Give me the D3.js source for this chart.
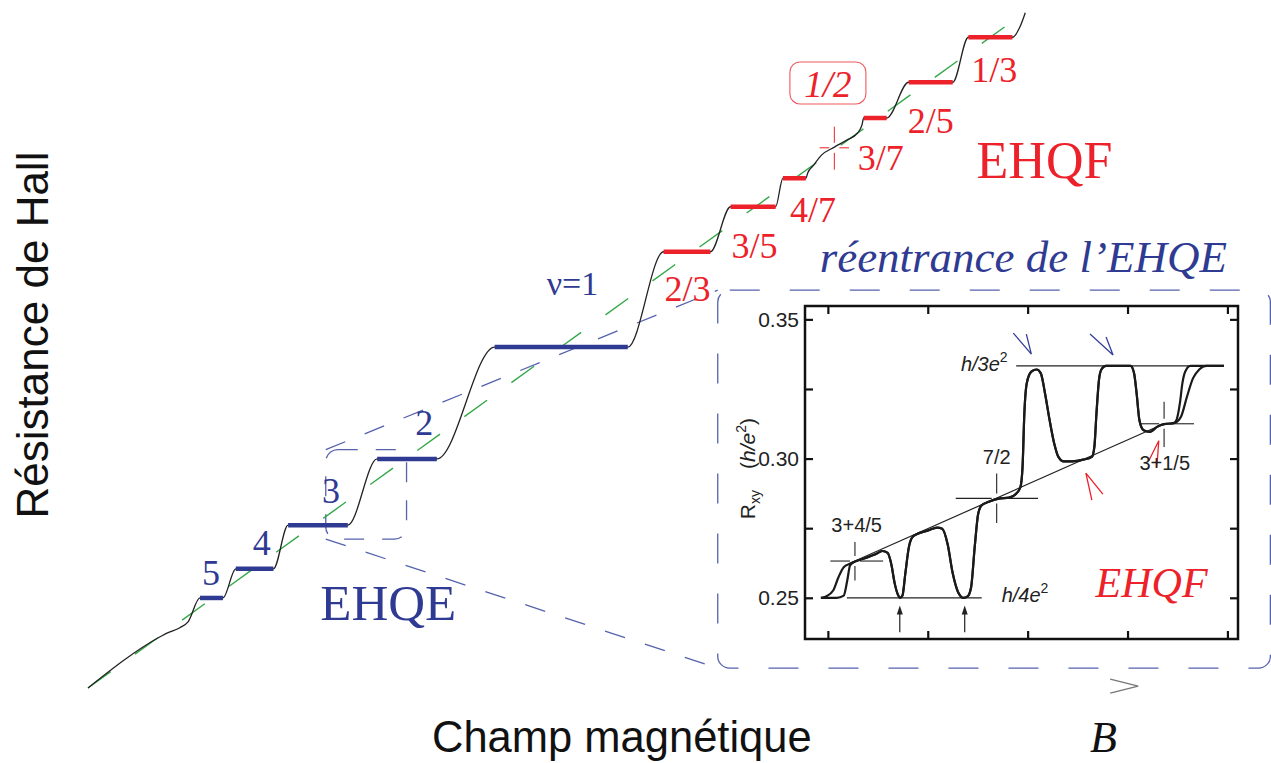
<!DOCTYPE html>
<html><head><meta charset="utf-8">
<script src="https://cdn.jsdelivr.net/npm/d3@7/dist/d3.min.js"></script>
<style>body{margin:0;background:#fff}svg{display:block}</style>
</head><body>
<svg id="c" width="1271" height="763"></svg>
<script>
// ===== main figure data (arbitrary units: B = field, R = Hall resistance) =====
const classicalLine = [[0, 0], [10, 10]];
const lowFieldCurve = [[0, 0], [0.78, 0.77], [0.82, 0.80], [0.86, 0.83], [1.00, 0.91], [1.09, 1.00]];
const plateauLabels = ["5", "4", "3", "2", "ν=1", "2/3", "3/5", "4/7", "3/7", "2/5", "1/3"];
const plateauStart  = [1.22, 1.61, 2.18, 3.15, 4.43, 6.27, 7.00, 7.57, 8.45, 8.94, 9.59];
const plateauEnd    = [1.47, 2.02, 2.83, 3.80, 5.88, 6.78, 7.49, 7.82, 8.70, 9.42, 10.07];
const plateauR      = [1.36, 1.80, 2.46, 3.46, 5.15, 6.59, 7.27, 7.70, 8.61, 9.15, 9.83];
const plateauType   = ["int", "int", "int", "int", "int", "frac", "frac", "frac", "frac", "frac", "frac"];
const halfFillingCurve = [[7.84, 7.78], [7.90, 7.89], [7.99, 8.05], [8.13, 8.17], [8.27, 8.28], [8.38, 8.38], [8.43, 8.50]];
const highFieldCurve = [[10.15, 9.98], [10.21, 10.20]];
const halfPoint = [8.13, 8.16];
const halfCrossArms = [0.16, 0.16, 0.32, 0.33]; // left, right, up, down (B, R units)
const zoomRectB = [2.59, 3.47], zoomRectR = [2.25, 3.60];
const insetBoxB = [6.86, 12.88], insetBoxR = [0.30, 6.01];

// ===== inset data (R_xy in h/e^2 vs field, arbitrary units) =====
const insetYTicks = [0.25, 0.275, 0.30, 0.325, 0.35];
const insetYLabels = [0.25, 0.30, 0.35];
const insetXTicks = [0, 1, 2, 3, 4];
const traceA = [[-0.070,0.2500],[0.088,0.2500],[0.159,0.2508],[0.194,0.2562],[0.222,0.2616],[0.271,0.2630],[0.370,0.2642],[0.476,0.2656],[0.546,0.2668],[0.599,0.2661],[0.634,0.2622],[0.670,0.2550],[0.705,0.2508],[0.722,0.2500],[0.747,0.2508],[0.775,0.2586],[0.811,0.2682],[0.846,0.2718],[0.899,0.2730],[1.004,0.2742],[1.093,0.2752],[1.145,0.2748],[1.198,0.2694],[1.251,0.2586],[1.304,0.2520],[1.357,0.2500],[1.399,0.2505],[1.434,0.2538],[1.470,0.2682],[1.505,0.2802],[1.540,0.2832],[1.604,0.2844],[1.709,0.2856],[1.815,0.2860],[1.885,0.2874],[1.928,0.2898],[1.949,0.2970],[1.967,0.3162],[1.991,0.3270],[2.037,0.3312],[2.090,0.3320],[2.132,0.3306],[2.174,0.3234],[2.220,0.3138],[2.266,0.3054],[2.308,0.3006],[2.361,0.2990],[2.449,0.2990],[2.555,0.2996],[2.643,0.3006],[2.668,0.3042],[2.689,0.3162],[2.714,0.3282],[2.738,0.3320],[2.784,0.3333],[3.031,0.3333],[3.066,0.3306],[3.091,0.3234],[3.119,0.3138],[3.161,0.3102],[3.225,0.3096],[3.295,0.3114],[3.366,0.3124],[3.454,0.3126],[3.489,0.3138],[3.524,0.3198],[3.549,0.3270],[3.577,0.3312],[3.630,0.3333],[3.965,0.3333]];
const traceB = [[-0.070,0.2500],[-0.018,0.2505],[0.053,0.2526],[0.106,0.2574],[0.159,0.2610],[0.222,0.2622],[0.271,0.2630],[0.370,0.2642],[0.476,0.2656],[0.546,0.2668],[0.599,0.2661],[0.634,0.2622],[0.670,0.2550],[0.705,0.2508],[0.722,0.2500],[0.747,0.2508],[0.775,0.2586],[0.811,0.2682],[0.846,0.2718],[0.899,0.2730],[1.004,0.2742],[1.093,0.2752],[1.145,0.2748],[1.198,0.2694],[1.251,0.2586],[1.304,0.2520],[1.357,0.2500],[1.399,0.2505],[1.434,0.2538],[1.470,0.2682],[1.505,0.2802],[1.540,0.2832],[1.604,0.2844],[1.709,0.2856],[1.815,0.2860],[1.885,0.2874],[1.928,0.2898],[1.949,0.2970],[1.967,0.3162],[1.991,0.3270],[2.037,0.3312],[2.090,0.3320],[2.132,0.3306],[2.174,0.3234],[2.220,0.3138],[2.266,0.3054],[2.308,0.3006],[2.361,0.2990],[2.449,0.2990],[2.555,0.2996],[2.643,0.3006],[2.668,0.3042],[2.689,0.3162],[2.714,0.3282],[2.738,0.3320],[2.784,0.3333],[3.031,0.3333],[3.066,0.3306],[3.091,0.3234],[3.119,0.3138],[3.161,0.3102],[3.225,0.3096],[3.295,0.3114],[3.366,0.3124],[3.471,0.3128],[3.535,0.3150],[3.595,0.3222],[3.655,0.3288],[3.718,0.3320],[3.789,0.3333],[3.965,0.3333]];
const insetClassical = [[0.22, 0.2624], [3.37, 0.3126]];
const quarterLine = [[0.19, 0.25], [1.54, 0.25]];
const thirdLine = [[1.885, 0.3333], [3.965, 0.3333]];
const crossLabels = ["3+4/5", "7/2", "3+1/5"];
const crossX = [0.271, 1.69, 3.366];
const crossR = [0.2632, 0.2857, 0.3125];
const crossArmsX = [[0.246, 0.282], [0.41, 0.414], [0.247, 0.30]];
const crossArmsR = [[0.0068, 0.0070], [0.0089, 0.0088], [0.0079, 0.0083]];
const upArrowX = [0.72, 1.37];
const upArrowR = [0.2376, 0.2472];
const blueArrowTips = [[2.037, 0.3375], [2.855, 0.3372]];
const redArrowTips = [[2.583, 0.2948], [3.313, 0.3064]];

// ===== layout / style =====
const BLUE = "#2f3b92", BLUE_DASH = "#5461ad", RED = "#ec2129", GREEN = "#35a84a", INK = "#222";
const SERIF = "'Liberation Serif','Times New Roman',serif";
const SANS = "'Liberation Sans',Arial,Helvetica,sans-serif";
const labelOffsets = [[2,-13],[17,-14],[34,-22],[38,-24],[52,-52],[1,49],[1,51],[7,44],[-6,52],[-1,51],[3,45]];
const inset = {left: 805, right: 1238, top: 306, bottom: 639};

const svg = d3.select("#c");
const x = d3.scaleLinear().domain([0, 10]).range([88, 1006]);
const y = d3.scaleLinear().domain([0, 10]).range([688, 26]);
const ix = d3.scaleLinear().domain([-0.229, 4.106]).range([inset.left, inset.right]);
const iy = d3.scaleLinear().domain([0.2352, 0.3548]).range([inset.bottom, inset.top]);

const mainLine = d3.line().x(d => x(d[0])).y(d => y(d[1]));
const mainCurve = d3.line().x(d => x(d[0])).y(d => y(d[1])).curve(d3.curveMonotoneX);
const insetLine = d3.line().x(d => ix(d[0])).y(d => iy(d[1]));
const insetCurve = d3.line().x(d => ix(d[0])).y(d => iy(d[1])).curve(d3.curveMonotoneX);

// dashed zoom boxes & connectors
function roundRect(x0, y0, x1, y1, r, dash, color) {
  svg.append("rect").attr("x", Math.min(x0,x1)).attr("y", Math.min(y0,y1))
    .attr("width", Math.abs(x1-x0)).attr("height", Math.abs(y1-y0)).attr("rx", r)
    .attr("fill", "none").attr("stroke", color).attr("stroke-width", 1.3).attr("stroke-dasharray", dash);
}
roundRect(x(zoomRectB[0]), y(zoomRectR[1]), x(zoomRectB[1]), y(zoomRectR[0]), 12, "20,18", BLUE_DASH);
roundRect(x(insetBoxB[0]), y(insetBoxR[1]), x(insetBoxB[1]), y(insetBoxR[0]), 12, "30,30", BLUE_DASH);
const connectors = [
  [[zoomRectB[0], zoomRectR[1]], [insetBoxB[0], insetBoxR[1]]],
  [[zoomRectB[0], zoomRectR[0]], [insetBoxB[0], insetBoxR[0]]]
];
svg.selectAll(".conn").data(connectors).join("path").attr("class", "conn")
  .attr("d", mainLine).attr("fill", "none").attr("stroke", BLUE_DASH)
  .attr("stroke-width", 1.3).attr("stroke-dasharray", "21,21");

// classical Hall line
svg.append("path").datum(classicalLine).attr("d", mainLine).attr("fill", "none")
  .attr("stroke", GREEN).attr("stroke-width", 1.4).attr("stroke-dasharray", "28,30");

// Hall resistance staircase
const pts = lowFieldCurve.slice();
plateauStart.forEach((b, i) => {
  pts.push([b, plateauR[i]], [plateauEnd[i], plateauR[i]]);
  if (plateauLabels[i] === "4/7") pts.push(...halfFillingCurve);
});
pts.push(...highFieldCurve);
svg.append("path").datum(pts).attr("d", mainCurve).attr("fill", "none")
  .attr("stroke", INK).attr("stroke-width", 1.3);

// plateaus
svg.selectAll(".plat").data(plateauStart).join("line").attr("class", "plat")
  .attr("x1", (d) => x(d)).attr("x2", (d, i) => x(plateauEnd[i]))
  .attr("y1", (d, i) => y(plateauR[i])).attr("y2", (d, i) => y(plateauR[i]))
  .attr("stroke", (d, i) => plateauType[i] === "int" ? BLUE : RED).attr("stroke-width", 4.5);

// plateau labels
svg.selectAll(".plab").data(plateauLabels).join("text").attr("class", "plab")
  .attr("x", (d, i) => x(plateauStart[i]) + labelOffsets[i][0])
  .attr("y", (d, i) => y(plateauR[i]) + labelOffsets[i][1])
  .attr("font-family", SERIF).attr("font-size", (d) => d === "ν=1" ? 34 : 36)
  .attr("fill", (d, i) => plateauType[i] === "int" ? BLUE : RED).text(d => d);

// crosshair helper (pixels)
function cross(g, cx, cy, l, r, u, d, gap, color, w) {
  const segs = [[cx - l, cy, cx - gap, cy], [cx + gap, cy, cx + r, cy], [cx, cy - u, cx, cy - gap], [cx, cy + gap, cx, cy + d]];
  segs.forEach(s => g.append("line").attr("x1", s[0]).attr("y1", s[1]).attr("x2", s[2]).attr("y2", s[3])
    .attr("stroke", color).attr("stroke-width", w));
}
cross(svg, x(halfPoint[0]), y(halfPoint[1]),
  x(halfPoint[0]) - x(halfPoint[0] - halfCrossArms[0]), x(halfPoint[0] + halfCrossArms[1]) - x(halfPoint[0]),
  y(halfPoint[1]) - y(halfPoint[1] + halfCrossArms[2]), y(halfPoint[1] - halfCrossArms[3]) - y(halfPoint[1]), 5, RED, 1);

// "1/2" box
const hx = x(8.06), hy = y(9.14);
svg.append("rect").attr("x", hx - 38).attr("y", hy - 21).attr("width", 76).attr("height", 42).attr("rx", 10)
  .attr("fill", "none").attr("stroke", "#ee5a5f").attr("stroke-width", 1.1);
svg.append("text").attr("x", hx).attr("y", hy + 14).attr("text-anchor", "middle")
  .attr("font-family", SERIF).attr("font-style", "italic").attr("font-size", 37).attr("fill", RED).text("1/2");

// big labels
svg.append("text").attr("x", x(9.68)).attr("y", y(7.70)).attr("font-family", SERIF).attr("font-size", 52)
  .attr("fill", RED).text("EHQF");
svg.append("text").attr("x", x(2.53)).attr("y", y(1.03)).attr("font-family", SERIF).attr("font-size", 51)
  .attr("fill", BLUE).text("EHQE");
svg.append("text").attr("x", x(7.97)).attr("y", y(6.28)).attr("font-family", SERIF).attr("font-style", "italic")
  .attr("font-size", 45).attr("fill", BLUE).text("réentrance de l’EHQE");

// axis titles
svg.append("text").attr("transform", "translate(48,335) rotate(-90)").attr("text-anchor", "middle")
  .attr("font-family", SANS).attr("font-size", 44).attr("fill", "#111").text("Résistance de Hall");
svg.append("text").attr("x", 432).attr("y", 752).attr("font-family", SANS).attr("font-size", 43.5)
  .attr("fill", "#111").text("Champ magnétique");
svg.append("text").attr("x", 1090).attr("y", 752).attr("font-family", SERIF).attr("font-style", "italic")
  .attr("font-size", 44).attr("fill", "#111").text("B");
svg.append("path").attr("d", `M${x(11.44) - 28},${y(0.03) - 7} L${x(11.44)},${y(0.03)} L${x(11.44) - 28},${y(0.03) + 7}`)
  .attr("fill", "none").attr("stroke", "#777").attr("stroke-width", 1.3);

// ===== inset =====
const gi = svg.append("g");
gi.append("rect").attr("x", inset.left).attr("y", inset.top).attr("width", inset.right - inset.left)
  .attr("height", inset.bottom - inset.top).attr("fill", "#fff").attr("stroke", "#111").attr("stroke-width", 2.5);
const fmt = d3.format(".2f");
const yl = gi.append("g").attr("transform", `translate(${inset.left},0)`)
  .call(d3.axisLeft(iy).tickValues(insetYTicks).tickSize(-8).tickPadding(6)
    .tickFormat(d => insetYLabels.some(v => Math.abs(v - d) < 1e-9) ? fmt(d) : ""));
const yr = gi.append("g").attr("transform", `translate(${inset.right},0)`)
  .call(d3.axisRight(iy).tickValues(insetYTicks).tickSize(-8).tickFormat(""));
const xt = gi.append("g").attr("transform", `translate(0,${inset.top})`)
  .call(d3.axisTop(ix).tickValues(insetXTicks).tickSize(-8).tickFormat(""));
const xb = gi.append("g").attr("transform", `translate(0,${inset.bottom})`)
  .call(d3.axisBottom(ix).tickValues(insetXTicks).tickSize(-8).tickFormat(""));
[yl, yr, xt, xb].forEach(a => {
  a.select(".domain").remove();
  a.selectAll("line").attr("stroke", "#111").attr("stroke-width", 2.2);
  a.selectAll("text").attr("font-family", SANS).attr("font-size", 21).attr("fill", INK);
});
// y label
gi.append("text").attr("transform", `translate(${inset.left - 50},${iy(0.2964)}) rotate(-90)`)
  .attr("text-anchor", "middle").attr("font-family", SANS).attr("font-size", 21).attr("fill", INK)
  .call(t => {
    t.append("tspan").text("R");
    t.append("tspan").attr("font-size", 14).attr("dy", 5).text("xy");
    t.append("tspan").attr("dy", -5).attr("xml:space", "preserve").text("\u2002\u2002(");
    t.append("tspan").attr("font-style", "italic").text("h");
    t.append("tspan").attr("font-style", "italic").text("/");
    t.append("tspan").attr("font-style", "italic").text("e");
    t.append("tspan").attr("font-size", 14).attr("dy", -9).text("2");
    t.append("tspan").attr("dy", 9).text(")");
  });

// reference lines
[insetClassical, quarterLine, thirdLine].forEach(d => gi.append("path").datum(d).attr("d", insetLine)
  .attr("fill", "none").attr("stroke", INK).attr("stroke-width", 1.2));
// crosshairs
crossX.forEach((cx, i) => {
  cross(gi, ix(cx), iy(crossR[i]),
    ix(cx) - ix(cx - crossArmsX[i][0]), ix(cx + crossArmsX[i][1]) - ix(cx),
    iy(crossR[i]) - iy(crossR[i] + crossArmsR[i][0]), iy(crossR[i] - crossArmsR[i][1]) - iy(crossR[i]), 5, INK, 1.1);
});
// traces
[traceB, traceA].forEach(d => gi.append("path").datum(d).attr("d", insetCurve)
  .attr("fill", "none").attr("stroke", "#1a1a1a").attr("stroke-width", 2.2));

// up arrows
upArrowX.forEach(ax => {
  const px = ix(ax), yb = iy(upArrowR[0]), yt = iy(upArrowR[1]);
  gi.append("line").attr("x1", px).attr("x2", px).attr("y1", yb).attr("y2", yt + 6).attr("stroke", INK).attr("stroke-width", 1.2);
  gi.append("path").attr("d", `M${px},${yt} L${px - 3},${yt + 9} L${px + 3},${yt + 9} Z`).attr("fill", INK);
});
// chevrons
const blueArms = [[[-18, -21], [-5, -20]], [[-23, -21], [-7, -18]]];
const redArms = [[[17, 21], [6, 27]], [[-10, 20], [-2, 27]]];
function chevron(tip, arms, color) {
  const px = ix(tip[0]), py = iy(tip[1]);
  gi.append("path").attr("d", `M${px + arms[0][0]},${py + arms[0][1]} L${px},${py} L${px + arms[1][0]},${py + arms[1][1]}`)
    .attr("fill", "none").attr("stroke", color).attr("stroke-width", 1.3);
}
blueArrowTips.forEach((t, i) => chevron(t, blueArms[i], "#34409a"));
redArrowTips.forEach((t, i) => chevron(t, redArms[i], RED));

// inset texts
const insetText = (xv, rv, anchor) => gi.append("text").attr("x", ix(xv)).attr("y", iy(rv))
  .attr("text-anchor", anchor).attr("font-family", SANS).attr("font-size", 20).attr("fill", INK);
insetText(0.035, 0.2736, "start").text(crossLabels[0]);
insetText(1.551, 0.2982, "start").text(crossLabels[1]);
insetText(3.119, 0.2960, "start").text(crossLabels[2]);
insetText(1.80, 0.3315, "end").call(t => {
  t.append("tspan").attr("font-style", "italic").text("h");
  t.append("tspan").attr("font-style", "italic").text("/3");
  t.append("tspan").attr("font-style", "italic").text("e");
  t.append("tspan").attr("font-size", 14).attr("dy", -9).text("2");
});
insetText(1.74, 0.2484, "start").call(t => {
  t.append("tspan").attr("font-style", "italic").text("h");
  t.append("tspan").attr("font-style", "italic").text("/4");
  t.append("tspan").attr("font-style", "italic").text("e");
  t.append("tspan").attr("font-size", 14).attr("dy", -9).text("2");
});
gi.append("text").attr("x", ix(2.68)).attr("y", iy(0.2502)).attr("font-family", SERIF).attr("font-style", "italic")
  .attr("font-size", 42).attr("fill", RED).text("EHQF");
</script>
</body></html>
